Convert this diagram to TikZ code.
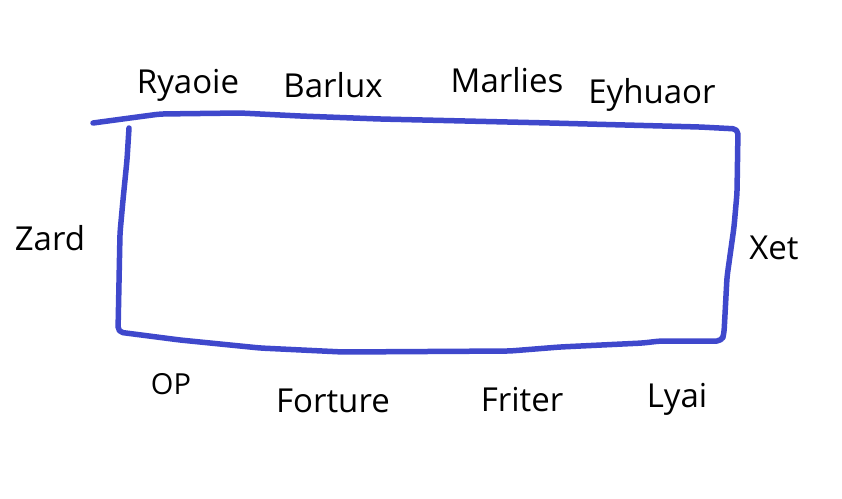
\documentclass[tikz,border=0pt]{standalone}
\usepackage{fontspec}
\setmainfont{Open Sans}
\definecolor{penblue}{RGB}{63,72,204}
\begin{document}
\begin{tikzpicture}[x=1pt,y=-1pt,
  lbl/.style={inner sep=0pt,anchor=base,font=\fontsize{33}{36}\selectfont},
  lblsmall/.style={inner sep=0pt,anchor=base,font=\fontsize{29}{32}\selectfont},
  pen/.style={draw=penblue,line width=5.5pt,line cap=round,line join=round,rounded corners=5pt}]
\useasboundingbox[fill=white] (0,0) rectangle (842,498);
\draw[pen] (93,123) -- (130,118) -- (160,114) -- (240,113) -- (300,116) -- (380,119)
  -- (550,123) -- (700,127) -- (738,129)
  -- (737,193) -- (734,227) -- (727,277) -- (724,333) -- (722,341)
  -- (660,341) -- (643,343) -- (560,347) -- (510,351) -- (343,352) -- (260,348) -- (180,340) -- (118,332)
  -- (120,233) -- (123,200) -- (127,160) -- (129,128);
\node[lbl] (ryaoie) at (188,93) {Ryaoie};
\node[lbl] (barlux) at (333,97) {Barlux};
\node[lbl] (marlies) at (507,92) {Marlies};
\node[lbl] (eyhuaor) at (652,103) {Eyhuaor};
\node[lbl] (zard) at (50,250) {Zard};
\node[lbl] (xet) at (774,259) {Xet};
\node[lblsmall] (op) at (171,394) {OP};
\node[lbl] (forture) at (333,412) {Forture};
\node[lbl] (friter) at (522,411) {Friter};
\node[lbl] (lyai) at (677,407) {Lyai};
\end{tikzpicture}
\end{document}
